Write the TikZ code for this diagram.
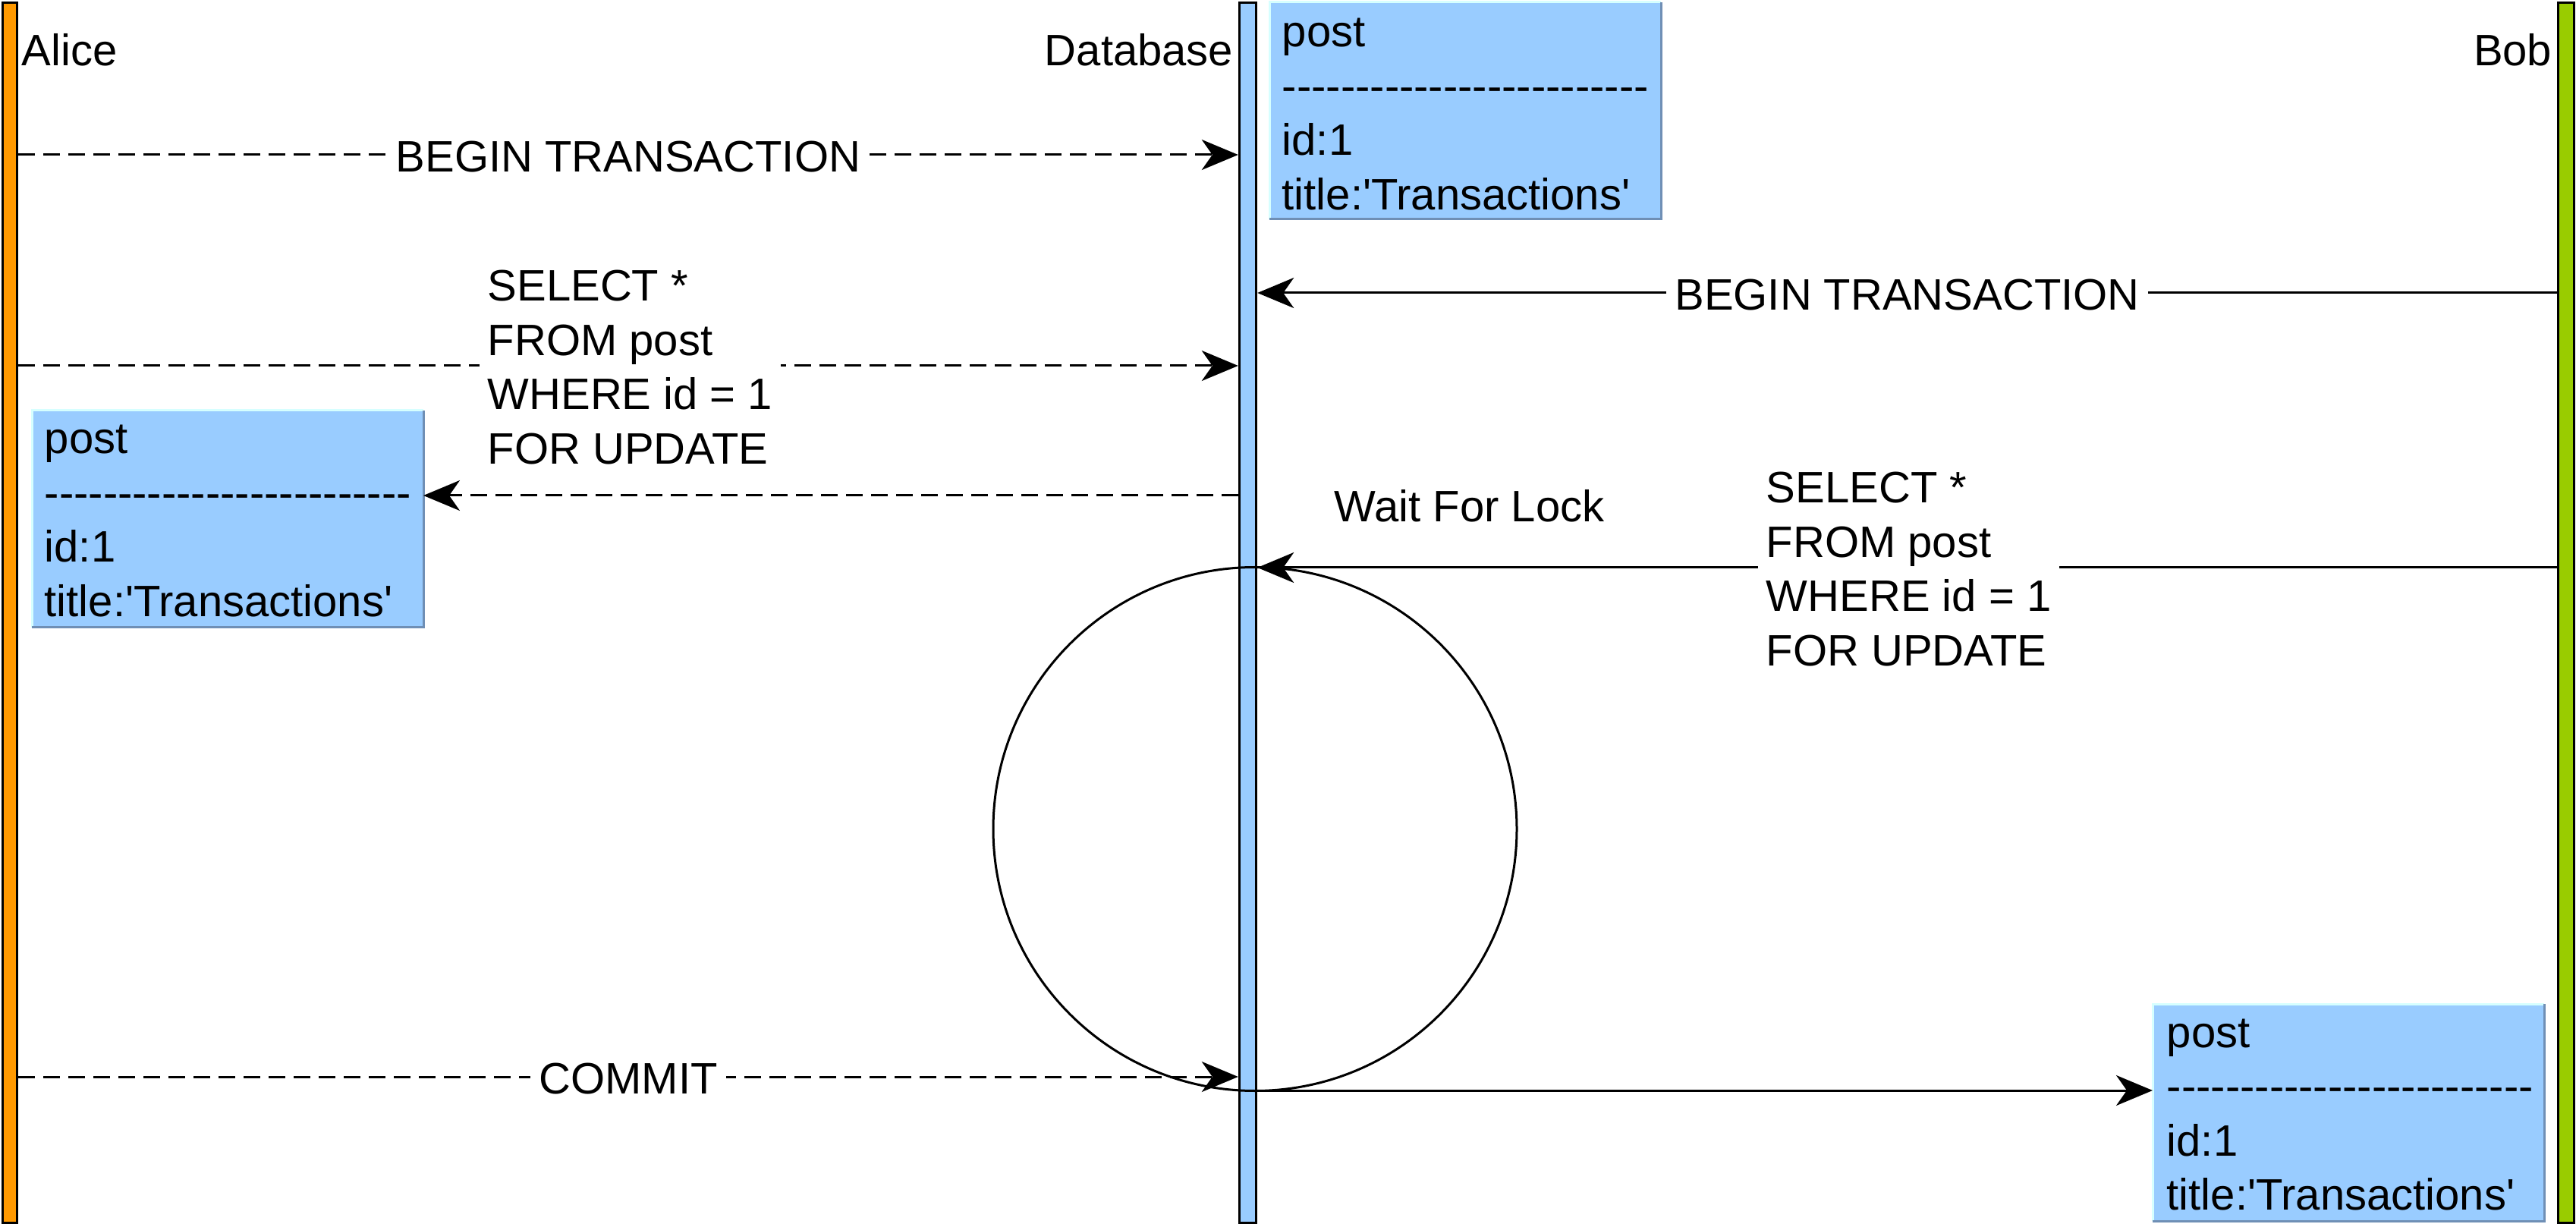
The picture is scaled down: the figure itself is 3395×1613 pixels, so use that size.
\documentclass[tikz,border=0pt]{standalone}
\usepackage{fontspec}
\newfontfamily\af{Liberation Sans}
\usetikzlibrary{arrows.meta}
\definecolor{alicec}{HTML}{FF9900}
\definecolor{dbc}{HTML}{99CCFF}
\definecolor{bobc}{HTML}{99CC00}
\definecolor{boxhi}{HTML}{D6FFFF}
\definecolor{boxlo}{HTML}{6F8FB5}
\newcommand\mylines[1]{\vtop{\halign{##\hfil\cr#1\crcr}}}
\newcommand\dashrow{-{}-{}-{}-{}-{}-{}-{}-{}-{}-{}-{}-{}-{}-{}-{}-{}-{}-{}-{}-{}-{}-{}-{}-{}-}
\begin{document}
\begin{tikzpicture}[x=0.25pt,y=-0.25pt,
  every node/.style={font=\af\fontsize{14.5pt}{17.875pt}\selectfont, inner sep=0pt},
  lifeline/.style={draw=black, line width=0.85pt, anchor=north, minimum height=402pt, inner sep=0pt},
  msg/.style={line width=0.75pt, -{Stealth[length=12pt,width=10pt,inset=3.5pt]}},
  dmsg/.style={msg, dash pattern=on 5.5pt off 2.75pt},
  lbl/.style={fill=white, inner xsep=2.75pt, inner ysep=0.5pt},
  midlbl/.style={lbl, yshift=-0.6pt},
  rec/.style={fill=dbc, minimum width=129pt, minimum height=71.5pt, anchor=north west, outer sep=0pt, inner sep=0pt},
  hiedge/.style={draw=boxhi, line width=0.75pt},
  loedge/.style={draw=boxlo, line width=0.75pt},
  boxtext/.style={anchor=base west}
]
\fill[white] (0,0) rectangle (3395,1613);
\useasboundingbox (0,0) rectangle (3395,1613);

% message heights
\coordinate (m1) at (0,204);
\coordinate (m2) at (0,386);
\coordinate (m3) at (0,482);
\coordinate (m4) at (0,653);
\coordinate (m5) at (0,748);
\coordinate (m6) at (0,1419);
\coordinate (m7) at (0,1437);

% lifelines
\node[lifeline, fill=alicec, minimum width=4.75pt] (alice) at (13,2) {};
\node[lifeline, fill=dbc, minimum width=5.5pt] (db) at (1644.5,2) {};
\node[lifeline, fill=bobc, minimum width=5.25pt] (bob) at (3382,2) {};

\node[anchor=base west] (alicename) at (28,87) {Alice};
\node[anchor=base east] (dbname) at (1626,87) {Database};
\node[anchor=base east] (bobname) at (3364,87) {Bob};

% post boxes
\node[rec] (bA) at (1673,3) {};
\draw[hiedge] (bA.south west) |- (bA.north east);
\draw[loedge] (bA.south west) -| (bA.north east);
\node[boxtext] (tA) at (1689,62) {\mylines{post\cr \dashrow\cr id:1\cr title:'Transactions'}};

\node[rec] (bB) at (42,541) {};
\draw[hiedge] (bB.south west) |- (bB.north east);
\draw[loedge] (bB.south west) -| (bB.north east);
\node[boxtext] (tB) at (58,598) {\mylines{post\cr \dashrow\cr id:1\cr title:'Transactions'}};

\node[rec] (bC) at (2837,1323) {};
\draw[hiedge] (bC.south west) |- (bC.north east);
\draw[loedge] (bC.south west) -| (bC.north east);
\node[boxtext] (tC) at (2855,1380) {\mylines{post\cr \dashrow\cr id:1\cr title:'Transactions'}};

% messages
\draw[dmsg] (alice.east |- m1) -- node[midlbl] (l1) {BEGIN TRANSACTION} (db.west |- m1);
\draw[msg] (bob.west |- m2) -- node[midlbl] (l2) {BEGIN TRANSACTION} (db.east |- m2);
\draw[dmsg] (alice.east |- m3) -- (db.west |- m3);
\node[lbl, anchor=base west] (l3) at (631,397) {\mylines{SELECT *\cr FROM post\cr WHERE id = 1\cr FOR UPDATE}};
\draw[dmsg] (db.west |- m4) -- (bB.east |- m4);
\draw[msg] (bob.west |- m5) -- (db.east |- m5);
\node[lbl, anchor=base west] (l5) at (2316,663) {\mylines{SELECT *\cr FROM post\cr WHERE id = 1\cr FOR UPDATE}};
\node[anchor=base west] (wait) at (1758,688) {Wait For Lock};
\node[draw, circle, line width=0.75pt, minimum size=172.5pt, inner sep=0pt, outer sep=0pt] (lock) at (1654,1092.5) {};
\draw[dmsg] (alice.east |- m6) -- node[midlbl] (l6) {COMMIT} (db.west |- m6);
\draw[msg] (db.east |- m7) -- (bC.west |- m7);
\end{tikzpicture}
\end{document}
